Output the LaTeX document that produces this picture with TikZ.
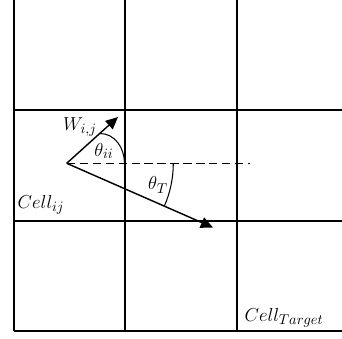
\documentclass[tikz,border=0pt]{standalone}
\usepackage{amsmath}
\usetikzlibrary{arrows.meta,positioning}

\begin{document}
\begin{tikzpicture}[x=0.027cm, y=-0.027cm, every node/.style={font=\fontsize{15}{18}\selectfont},
  gridline/.style={line width=1.5pt},
  vec/.style={line width=1.1pt, -{Triangle[length=3.3mm, width=3mm]}},
  ang/.style={line width=0.8pt}]
\useasboundingbox (0,0) rectangle (342,339);
% Grid
\foreach \x in {14,125,237}
  \draw[gridline] (\x,0) -- (\x,331);
\foreach \y in {110,221,331}
  \draw[gridline] (14,\y) -- (342,\y);
% Vectors
\coordinate (cellij) at (66.7,163.3);
\coordinate (wtip) at (118,117);
\coordinate (ttip) at (213,227.5);
\coordinate (dashend) at (250,163.3);
\draw[line width=1.1pt, dash pattern=on 2.2mm off 1.3mm] (cellij) -- (dashend);
\draw[vec] (cellij) -- (wtip);
\draw[vec] (cellij) -- (ttip);
% Angles
\draw[ang] (100,133.5) to[out=0, in=90] (124.5,163.3);
\draw[ang] (cellij) ++(0:106.6) arc[start angle=0, end angle=23.7, radius=106.6];
% Labels
\node (wlab) at (80,127) {$W_{i,j}$};
\node (thii) at (104,151) {$\theta_{ii}$};
\node (tht) at (158,185) {$\theta_T$};
\node (clab) at (41,205) {$Cell_{ij}$};
\node (ctlab) at (284,318) {$Cell_{Target}$};
\end{tikzpicture}
\end{document}
